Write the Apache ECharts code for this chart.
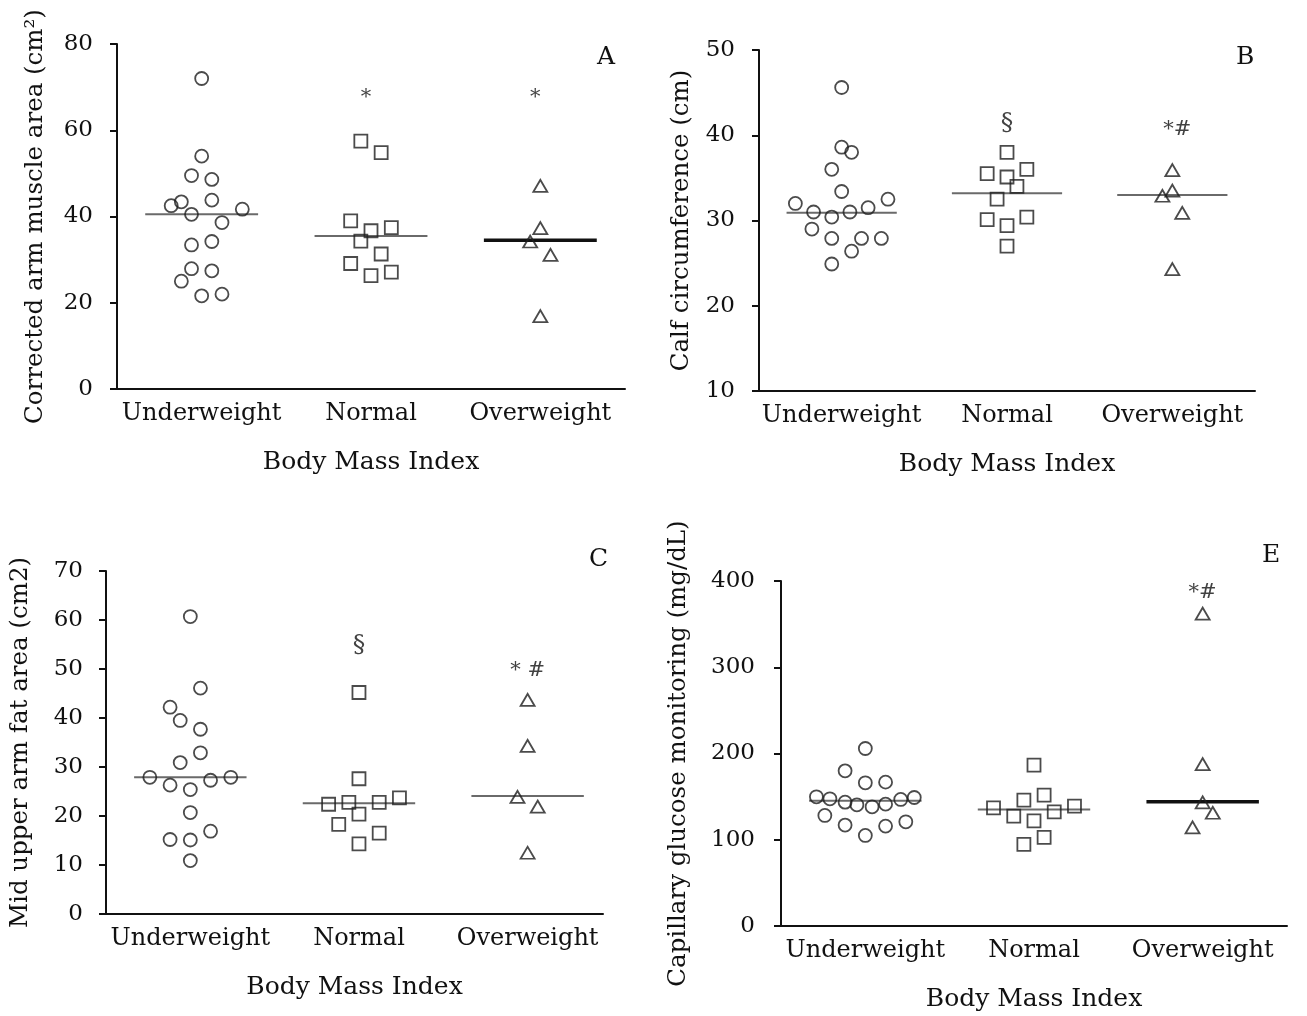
<!DOCTYPE html>
<html>
<head>
<meta charset="utf-8">
<script src="https://cdn.jsdelivr.net/npm/echarts@6/dist/echarts.min.js"></script>
<style>html,body{margin:0;padding:0;background:#fff}#c{width:1307px;height:1016px}</style>
</head>
<body>
<div id="c"></div>
<script>
// ---------- DATA ----------
const categories = ['Underweight', 'Normal', 'Overweight'];
const xAxisTitle = 'Body Mass Index';
const yTitles = ['Corrected arm muscle area (cm\u00B2)', 'Calf circumference (cm)', 'Mid upper arm fat area (cm2)', 'Capillary glucose monitoring (mg/dL)'];
const panelLetters = ['A', 'B', 'C', 'E'];

// Panel A: corrected arm muscle area
const aUnderX = [0.5, 0.5, 0.44, 0.56, 0.38, 0.56, 0.32, 0.74, 0.44, 0.62, 0.44, 0.56, 0.44, 0.56, 0.38, 0.5, 0.62];
const aUnderY = [72, 54, 49.5, 48.6, 43.4, 43.8, 42.5, 41.7, 40.5, 38.6, 33.4, 34.2, 27.9, 27.4, 25.0, 21.6, 22.0];
const aNormX = [1.44, 1.56, 1.38, 1.5, 1.62, 1.44, 1.56, 1.38, 1.5, 1.62];
const aNormY = [57.5, 54.8, 39.0, 36.7, 37.4, 34.3, 31.3, 29.1, 26.3, 27.1];
const aOverX = [2.5, 2.5, 2.44, 2.56, 2.5];
const aOverY = [47.1, 37.3, 34.2, 31.1, 16.9];
const aMeans = [40.5, 35.5, 34.5];
const aMarks = ['', '*', '*'];
const aMarkX = [0.5, 1.47, 2.47];
const aMarkY = [0, 67.5, 67.5];

// Panel B: calf circumference
const bUnderX = [0.5, 0.5, 0.56, 0.44, 0.5, 0.22, 0.78, 0.33, 0.44, 0.55, 0.66, 0.32, 0.44, 0.62, 0.74, 0.56, 0.44];
const bUnderY = [45.6, 38.6, 38.0, 36.0, 33.4, 32.0, 32.5, 31.0, 30.4, 31.0, 31.5, 29.0, 27.9, 27.9, 27.9, 26.4, 24.9];
const bNormX = [1.5, 1.38, 1.62, 1.5, 1.56, 1.44, 1.38, 1.62, 1.5, 1.5];
const bNormY = [38.0, 35.5, 36.0, 35.1, 34.0, 32.5, 30.1, 30.4, 29.4, 27.0];
const bOverX = [2.5, 2.5, 2.44, 2.56, 2.5];
const bOverY = [35.9, 33.5, 32.9, 30.9, 24.3];
const bMeans = [30.9, 33.2, 33.0];
const bMarks = ['', '\u00A7', '*#'];
const bMarkX = [0.5, 1.5, 2.53];
const bMarkY = [0, 41.4, 40.7];

// Panel C: mid upper arm fat area
const cUnderX = [0.5, 0.56, 0.38, 0.44, 0.56, 0.56, 0.44, 0.26, 0.74, 0.62, 0.38, 0.5, 0.5, 0.62, 0.38, 0.5, 0.5];
const cUnderY = [60.7, 46.1, 42.2, 39.5, 37.7, 32.9, 30.9, 27.9, 27.9, 27.3, 26.3, 25.4, 20.7, 16.9, 15.2, 15.1, 10.9];
const cNormX = [1.5, 1.5, 1.32, 1.44, 1.62, 1.74, 1.5, 1.38, 1.62, 1.5];
const cNormY = [45.2, 27.6, 22.4, 22.8, 22.8, 23.7, 20.4, 18.3, 16.5, 14.3];
const cOverX = [2.5, 2.5, 2.44, 2.56, 2.5];
const cOverY = [43.7, 34.3, 23.9, 21.9, 12.5];
const cMeans = [27.9, 22.6, 24.1];
const cMarks = ['', '\u00A7', '* #'];
const cMarkX = [0.5, 1.5, 2.5];
const cMarkY = [0, 54.7, 49.6];

// Panel E: capillary glucose
const eUnderX = [0.5, 0.38, 0.5, 0.62, 0.21, 0.79, 0.29, 0.38, 0.45, 0.54, 0.62, 0.71, 0.26, 0.74, 0.38, 0.62, 0.5];
const eUnderY = [205.8, 179.9, 166, 166.8, 149.8, 149, 147.5, 143.6, 140.5, 138.2, 141.3, 146.7, 128.2, 120.8, 117, 115.8, 105];
const eNormX = [1.5, 1.56, 1.44, 1.26, 1.74, 1.62, 1.38, 1.5, 1.56, 1.44];
const eNormY = [186.5, 151.8, 146, 137, 139, 132.4, 127.4, 122, 102.7, 94.6];
const eOverX = [2.5, 2.5, 2.5, 2.56, 2.44];
const eOverY = [362.2, 187.7, 143.3, 131.3, 114.3];
const eMeans = [145.2, 135.2, 144];
const eMarks = ['', '', '*#'];
const eMarkX = [0.5, 1.5, 2.5];
const eMarkY = [0, 0, 387];

// ---------- LAYOUT / STYLE ----------
const FONT = 'DejaVu Serif';
const TXT = '#111';
const layouts = [
  { grid: { left: 117, top: 44, width: 508, height: 345 }, yMin: 0, yMax: 80, yInt: 20, xMax: 3, nameGap: 69, labelMargin: 24, letterPos: [597, 45], heavy: [false, false, true] },
  { grid: { left: 759, top: 50, width: 496, height: 341 }, yMin: 10, yMax: 50, yInt: 10, xMax: 3, nameGap: 65, labelMargin: 24, letterPos: [1236, 45], heavy: [false, false, false] },
  { grid: { left: 106, top: 571, width: 497, height: 343 }, yMin: 0, yMax: 70, yInt: 10, xMax: 2.947, nameGap: 73, labelMargin: 23, letterPos: [589, 547], heavy: [false, false, false] },
  { grid: { left: 781, top: 581, width: 506, height: 345 }, yMin: 0, yMax: 400, yInt: 100, xMax: 3, nameGap: 90, labelMargin: 26, letterPos: [1262, 543], heavy: [false, false, true] }
];
const sets = [
  { groups: [[aUnderX, aUnderY], [aNormX, aNormY], [aOverX, aOverY]], means: aMeans, marks: aMarks, markX: aMarkX, markY: aMarkY },
  { groups: [[bUnderX, bUnderY], [bNormX, bNormY], [bOverX, bOverY]], means: bMeans, marks: bMarks, markX: bMarkX, markY: bMarkY },
  { groups: [[cUnderX, cUnderY], [cNormX, cNormY], [cOverX, cOverY]], means: cMeans, marks: cMarks, markX: cMarkX, markY: cMarkY },
  { groups: [[eUnderX, eUnderY], [eNormX, eNormY], [eOverX, eOverY]], means: eMeans, marks: eMarks, markX: eMarkX, markY: eMarkY }
];
const symbols = [
  { symbol: 'circle', size: 13 },
  { symbol: 'rect', size: 13 },
  { symbol: 'triangle', size: [14, 12] }
];

const grids = [], xAxes = [], yAxes = [], series = [], graphics = [];
layouts.forEach((L, p) => {
  grids.push(L.grid);
  xAxes.push({
    type: 'value', gridIndex: p, min: 0, max: L.xMax, interval: 0.5,
    axisLine: { show: true, onZero: false, lineStyle: { color: '#111', width: 2 } },
    axisTick: { show: false }, splitLine: { show: false },
    axisLabel: {
      margin: 13, color: TXT, fontFamily: FONT, fontSize: 24,
      formatter: v => { const i = Math.round(v - 0.5); return (Math.abs(v - (i + 0.5)) < 1e-6 && categories[i]) ? categories[i] : ''; }
    },
    name: xAxisTitle, nameLocation: 'middle', nameGap: 61,
    nameTextStyle: { color: TXT, fontFamily: FONT, fontSize: 25 }
  });
  yAxes.push({
    type: 'value', gridIndex: p, min: L.yMin, max: L.yMax, interval: L.yInt,
    axisLine: { show: true, lineStyle: { color: '#111', width: 2 } },
    axisTick: { show: true, inside: false, length: 7, lineStyle: { color: '#111', width: 2 } },
    splitLine: { show: false },
    axisLabel: { margin: L.labelMargin, color: TXT, fontFamily: FONT, fontSize: 23 },
    name: yTitles[p], nameLocation: 'middle', nameRotate: 90, nameGap: L.nameGap,
    nameTextStyle: { color: TXT, fontFamily: FONT, fontSize: 24.5 }
  });
  const S = sets[p];
  S.groups.forEach((g, k) => {
    series.push({
      type: 'scatter', xAxisIndex: p, yAxisIndex: p, z: 3,
      symbol: symbols[k].symbol, symbolSize: symbols[k].size,
      itemStyle: { color: 'rgba(255,255,255,0)', borderColor: '#1e1e1e', borderWidth: 1.8 },
      data: g[0].map((x, i) => [x, g[1][i]])
    });
    const c = k + 0.5;
    series.push({
      type: 'line', xAxisIndex: p, yAxisIndex: p, z: 2, symbol: 'none',
      lineStyle: L.heavy[k] ? { color: '#111', width: 3.5 } : { color: '#6a6a6a', width: 2 },
      data: [[c - 1 / 3, S.means[k]], [c + 1 / 3, S.means[k]]]
    });
    if (S.marks[k]) {
      series.push({
        type: 'scatter', xAxisIndex: p, yAxisIndex: p, z: 4, symbolSize: 0,
        label: { show: true, position: 'inside', formatter: S.marks[k], color: TXT, fontFamily: FONT, fontSize: S.marks[k] === '\u00A7' ? 25 : 21 },
        data: [[S.markX[k], S.markY[k]]]
      });
    }
  });
  graphics.push({
    type: 'text', left: L.letterPos[0], top: L.letterPos[1],
    style: { text: panelLetters[p], fill: TXT, font: '25px "' + FONT + '"' }
  });
});

const chart = echarts.init(document.getElementById('c'), null, { renderer: 'canvas' });
chart.setOption({
  backgroundColor: '#ffffff',
  animation: false,
  grid: grids, xAxis: xAxes, yAxis: yAxes, series: series, graphic: graphics
});
</script>
</body>
</html>
